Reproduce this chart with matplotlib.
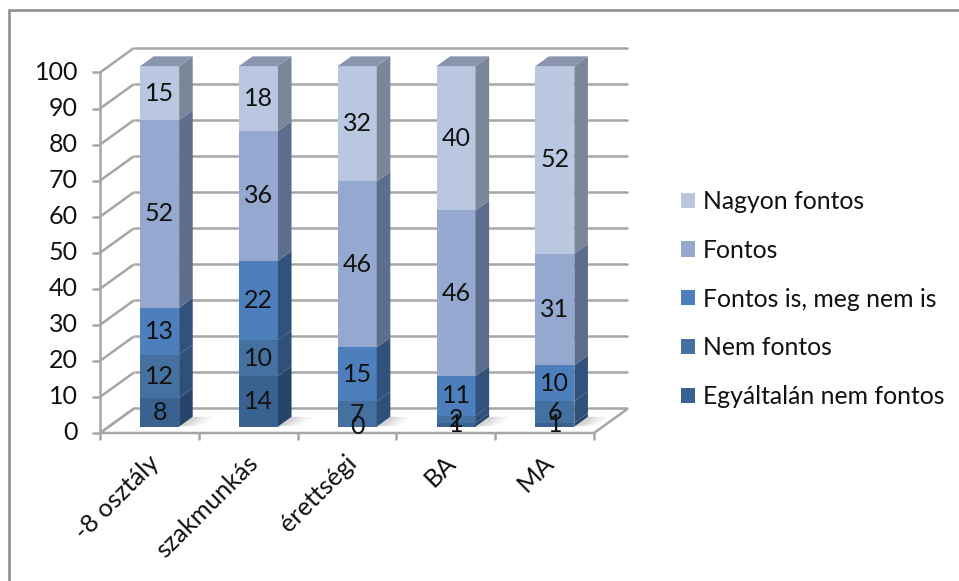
import numpy as np
import matplotlib
matplotlib.use("Agg")
import matplotlib.pyplot as plt
from matplotlib.patches import Patch, Polygon, Rectangle

categories = ["-8 osztály", "szakmunkás", "érettségi", "BA", "MA"]
series_names = ["Egyáltalán nem fontos", "Nem fontos", "Fontos is, meg nem is", "Fontos", "Nagyon fontos"]
egyaltalan = [8, 14, 0, 1, 1]
nem_fontos = [12, 10, 7, 2, 6]
is_is = [13, 22, 15, 11, 10]
fontos = [52, 36, 46, 46, 31]
nagyon = [15, 18, 32, 40, 52]
y_ticks = list(range(0, 101, 10))

front_cols = ["#3A6291", "#44719F", "#4D7FBD", "#95A9D0", "#B9C7E0"]
side_cols = ["#27456B", "#2E5079", "#30527C", "#5D6E8C", "#7B8699"]
top_col = "#8A94AC"
grid_col = "#A6A6A6"

W, H = 959, 581
plt.rcParams['font.family'] = ['Lato', 'DejaVu Sans']
fig = plt.figure(figsize=(W / 100, H / 100), dpi=100)
# front plane of the 3d box, in pixels
L, R, T, B = 100, 594, 72.5, 433
ax = fig.add_axes([L / W, 1 - B / H, (R - L) / W, (B - T) / H])
ax.set_xlim(0, 5)
ax.set_ylim(0, 100)
ax.axis("off")

# depth offset of the back wall, data units
DX = 34 * 5 / (R - L)
DY = 24.5 * 100 / (B - T)


def proj(x, y, d):
    return (x + d * DX, y + d * DY)


def face(pts, **kw):
    ax.add_patch(Polygon(pts, closed=True, clip_on=False, **kw))


# frame
fig.add_artist(Rectangle((9.2 / W, -0.1), 1, 1 - 10.3 / H + 0.1, transform=fig.transFigure,
                         fill=False, ec="#8F8F8F", lw=1.9))

line = dict(color=grid_col, lw=1.8, clip_on=False, solid_capstyle="butt", zorder=1)
for v in y_ticks:
    a, b = proj(0, v, 0), proj(0, v, 1)
    ax.plot([a[0], b[0]], [a[1], b[1]], **line)
    c = proj(5, v, 1)
    if v > 0:
        ax.plot([b[0], c[0]], [b[1], c[1]], **line)
    # tick
    ax.plot([-8 * 5 / (R - L), 0], [v, v], **line)
    ax.text(-22 * 5 / (R - L), v, str(v), ha="right", va="center", fontsize=18, color="#111111")
# floor
fl = [proj(0, 0, 0), proj(5, 0, 0), proj(5, 0, 1), proj(0, 0, 1)]
face(fl, fill=False, ec=grid_col, lw=1.8, zorder=1)
ax.plot([0, 0], [0, 100], **line)
for i in range(6):
    ax.plot([i, i], [0, -7 / (B - T) * 100], **line)

# bars
stack = np.array([egyaltalan, nem_fontos, is_is, fontos, nagyon])
d0, d1 = 0.26, 0.66
bar_w = 0.395
shift = 0.014
for i in range(len(categories)):
    x0 = i + 0.5 + shift - bar_w / 2
    x1 = x0 + bar_w
    # shadow on the floor
    for k, a in zip([2.2, 1.7, 1.2, 0.7], [0.05, 0.07, 0.10, 0.14]):
        sx = 10 * 5 / (R - L) * k
        face([proj(x1, 0, d0), proj(x1 + sx, 0, d0 + 0.05), proj(x1 + sx, 0, d1), proj(x1, 0, d1)],
             fc="#808080", ec="none", alpha=a, zorder=2)
    base = 0
    for s in range(5):
        v = stack[s, i]
        px0, py0 = proj(x0, base, d0)
        ax.bar(px0, v, width=bar_w, bottom=py0, align="edge", color=front_cols[s],
               lw=0, zorder=3, clip_on=False)
        face([proj(x1, base, d0), proj(x1, base + v, d0), proj(x1, base + v, d1), proj(x1, base, d1)],
             fc=side_cols[s], ec="none", zorder=3)
        base += v
    face([proj(x0, base, d0), proj(x1, base, d0), proj(x1, base, d1), proj(x0, base, d1)],
         fc=top_col, ec="none", zorder=3)
    base = 0
    for s in range(5):
        v = stack[s, i]
        px, py = proj(i + 0.5 + shift, base + v / 2, d0)
        ax.text(px, py, str(v), ha="center", va="center", fontsize=18, color="#111111", zorder=5)
        base += v
    ax.text(i + 0.5 + 0.06, -7.2, categories[i], rotation=45, rotation_mode="anchor",
            ha="right", va="center", fontsize=18.3, color="#111111", clip_on=False)

handles = [Patch(fc=c, ec="none") for c in front_cols[::-1]]
fig.legend(handles, series_names[::-1], loc="center left", bbox_to_anchor=(681 / W, 1 - 299 / H),
           frameon=False, fontsize=17.8, handlelength=0.57, handleheight=0.57, handletextpad=0.32,
           labelspacing=1.04, borderpad=0, borderaxespad=0, labelcolor="#111111")

fig.savefig("out.png", dpi=100)
